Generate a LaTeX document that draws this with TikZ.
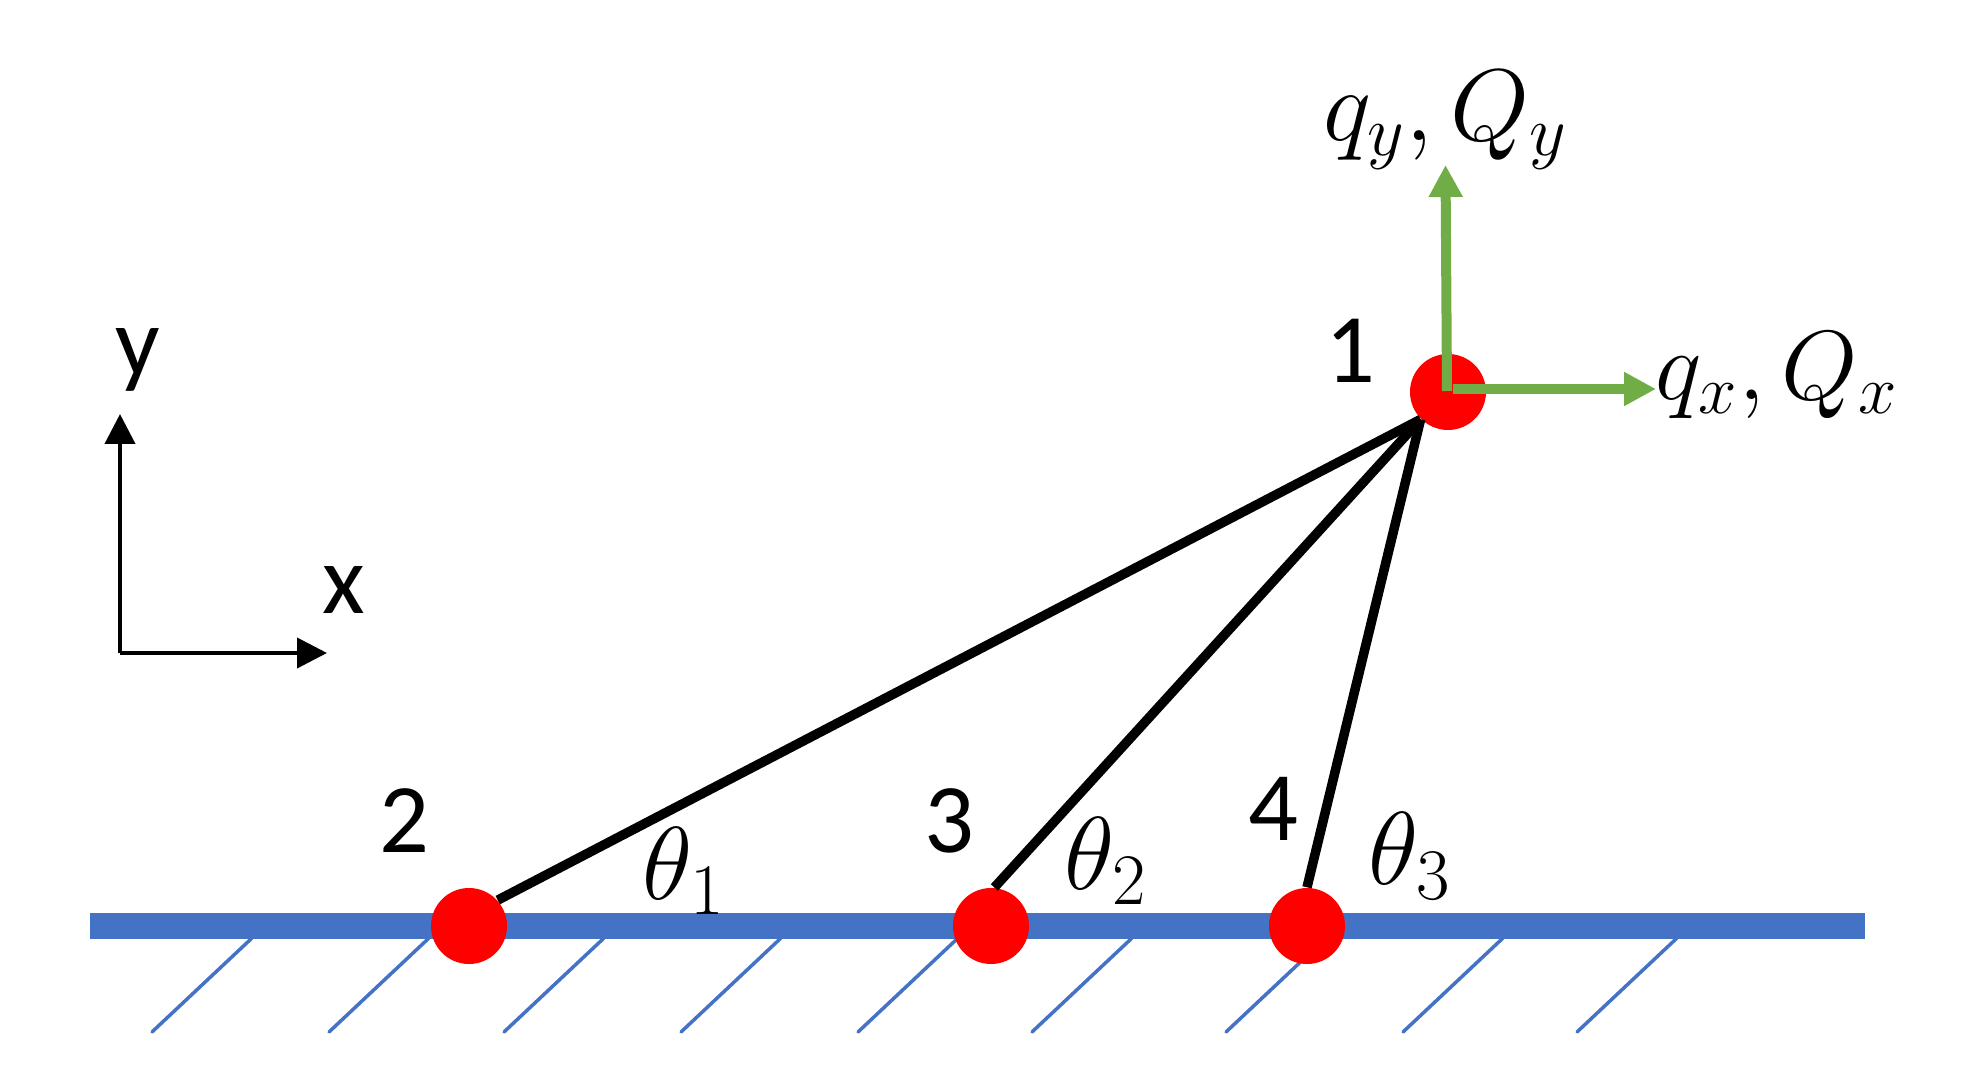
\documentclass[tikz,border=0pt]{standalone}
\usepackage{fix-cm}
\usepackage[no-math]{fontspec}
\setmainfont{Carlito}
\usetikzlibrary{arrows.meta}
\definecolor{barblue}{HTML}{4472C4}
\definecolor{forcegreen}{HTML}{70AD47}
\tikzset{
    joint/.style={circle,fill=red,inner sep=0pt,minimum size=.76cm},
    member/.style={line width=.095cm,black},
    ground/.style={line width=.26cm,barblue},
    hatchline/.style={line width=.035cm,barblue,line cap=round},
    force/.style={line width=.1cm,forcegreen,-{Triangle[length=.32cm,width=.32cm]}},
    axis/.style={line width=.04cm,black,-{Triangle[length=.3cm,width=.3cm]}},
    lbl/.style={inner sep=0pt,font=\fontsize{28}{32}\selectfont},
    mathlbl/.style={inner sep=0pt,font=\fontsize{#1}{36}\selectfont}
}
\begin{document}
\begin{tikzpicture}
    \useasboundingbox (0,0) rectangle (19.62,10.73);
    \coordinate (barleft) at (.9,1.47);
    \coordinate (barright) at (18.65,1.47);
    \draw[ground] (barleft) -- (barright);
    \foreach \x in {1.52,3.29,5.04,6.81,8.58,10.32,12.26,14.03,15.77}
        \draw[hatchline] (\x,.41) -- (\x+1,1.35);
    \node[joint] (n1) at (14.48,6.81) {};
    \node[joint] (n2) at (4.69,1.47) {};
    \node[joint] (n3) at (9.91,1.47) {};
    \node[joint] (n4) at (13.07,1.47) {};
    \draw[member] (n1.225) -- (n2.42);
    \draw[member] (n1.225) -- (n3.85);
    \draw[member] (n1.225) -- (n4.90);
    \coordinate (qyfoot) at (14.47,6.82);
    \coordinate (qytip) at (14.455,9.08);
    \coordinate (qxfoot) at (14.53,6.84);
    \coordinate (qxtip) at (16.56,6.84);
    \draw[force] (qyfoot) -- (qytip);
    \draw[force] (qxfoot) -- (qxtip);
    \coordinate (corner) at (1.2,4.2);
    \coordinate (ytip) at (1.2,6.59);
    \coordinate (xtip) at (3.27,4.2);
    \draw[axis] (corner) -- (ytip);
    \draw[axis] (corner) -- (xtip);
    \node[lbl] (ylabel) at (1.375,7.13) {y};
    \node[lbl] (xlabel) at (3.44,4.83) {x};
    \node[lbl] (label1) at (13.50,7.22) {1};
    \node[lbl] (label2) at (4.04,2.52) {2};
    \node[lbl] (label3) at (9.49,2.52) {3};
    \node[lbl] (label4) at (12.73,2.64) {4};
    \node[mathlbl=29.5] (theta1) at (6.84,2.02) {$\theta_1$};
    \node[mathlbl=29.5] (theta2) at (11.06,2.12) {$\theta_2$};
    \node[mathlbl=29.5] (theta3) at (14.10,2.17) {$\theta_3$};
    \node[mathlbl=29] (qylabel) at (14.455,9.53) {$q_y,Q_y$};
    \node[mathlbl=28] (qxlabel) at (17.77,6.98) {$q_x,Q_x$};
\end{tikzpicture}
\end{document}
